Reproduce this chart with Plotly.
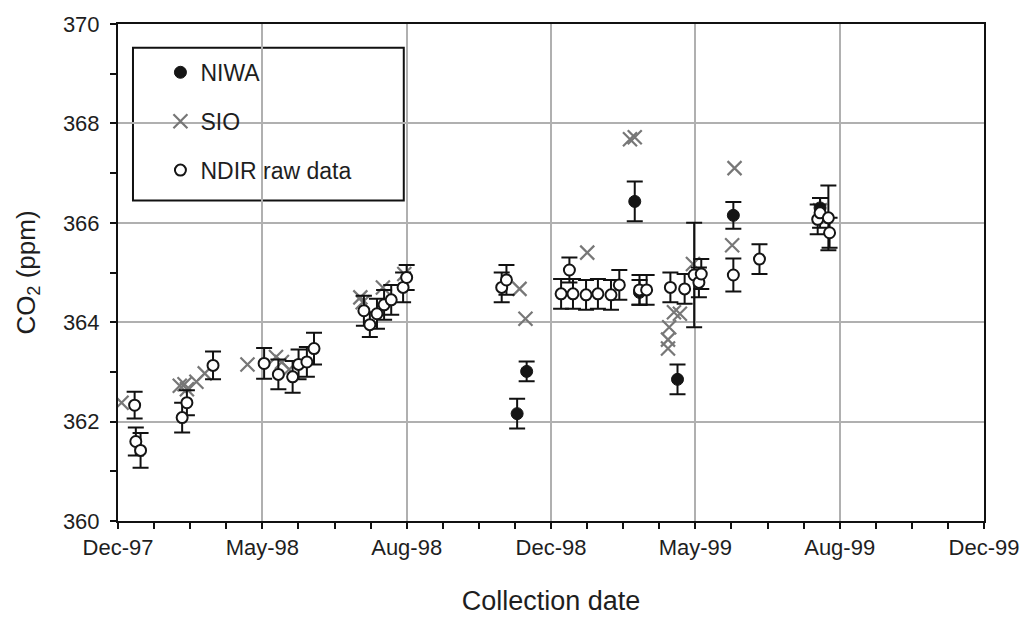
import pandas as pd
import plotly.graph_objects as go

# ---- NIWA flask results (date, CO2 ppm, 1-sigma) ----
niwa_dates = ["1998-12-02", "1998-12-10", "1999-03-11", "1999-03-15",
              "1999-04-16", "1999-06-02", "1999-08-14"]
niwa_co2 = [362.16, 363.01, 366.43, 364.60, 362.85, 366.15, 366.30]
niwa_err = [0.30, 0.20, 0.40, 0.25, 0.30, 0.27, 0.20]

# ---- SIO flask results ----
sio_dates = ["1998-01-03", "1998-02-21", "1998-02-25", "1998-02-27", "1998-03-07",
             "1998-03-14", "1998-04-19", "1998-05-13", "1998-05-18", "1998-05-24",
             "1998-07-23", "1998-07-25", "1998-08-11", "1998-08-29", "1998-12-04",
             "1998-12-09", "1999-01-30", "1999-03-07", "1999-03-11", "1999-04-08",
             "1999-04-08", "1999-04-09", "1999-04-13", "1999-04-18", "1999-04-29",
             "1999-06-01", "1999-06-03", "1999-08-14"]
sio_co2 = [362.38, 362.72, 362.75, 362.65, 362.80,
           362.97, 363.15, 363.30, 363.20, 363.05,
           364.50, 364.40, 364.70, 364.97, 364.67,
           364.07, 365.40, 367.68, 367.72, 363.47,
           363.65, 363.90, 364.20, 364.17, 365.17,
           365.55, 367.10, 366.25]

# ---- NDIR raw data (date, CO2 ppm, 1-sigma) ----
ndir_dates = ["1998-01-14", "1998-01-15", "1998-01-19", "1998-02-23", "1998-02-27",
              "1998-03-21", "1998-05-03", "1998-05-15", "1998-05-27", "1998-06-01",
              "1998-06-08", "1998-06-14", "1998-07-26", "1998-07-31", "1998-08-06",
              "1998-08-12", "1998-08-18", "1998-08-28", "1998-08-31", "1998-11-19",
              "1998-11-23", "1999-01-08", "1999-01-15", "1999-01-18", "1999-01-29",
              "1999-02-08", "1999-02-19", "1999-02-26", "1999-03-15", "1999-03-21",
              "1999-04-10", "1999-04-22", "1999-04-30", "1999-05-04", "1999-05-06",
              "1999-06-02", "1999-06-24", "1999-08-12", "1999-08-14", "1999-08-21",
              "1999-08-22"]
ndir_co2 = [362.33, 361.60, 361.42, 362.08, 362.38,
            363.13, 363.17, 362.95, 362.90, 363.15,
            363.20, 363.47, 364.23, 363.95, 364.17,
            364.35, 364.45, 364.70, 364.90, 364.70,
            364.85, 364.57, 365.05, 364.57, 364.55,
            364.57, 364.55, 364.75, 364.65, 364.65,
            364.70, 364.67, 364.95, 364.80, 364.97,
            364.95, 365.27, 366.07, 366.20, 366.10,
            365.80]
ndir_err = [0.27, 0.28, 0.35, 0.30, 0.25,
            0.28, 0.31, 0.30, 0.32, 0.30,
            0.30, 0.32, 0.30, 0.25, 0.30,
            0.30, 0.30, 0.30, 0.25, 0.30,
            0.30, 0.30, 0.25, 0.30, 0.30,
            0.30, 0.30, 0.30, 0.30, 0.30,
            0.30, 0.30, 1.05, 0.30, 0.30,
            0.33, 0.30, 0.30, 0.30, 0.65,
            0.30]

# ---- axis labelling ----
tick_labels = ["Dec-97", "May-98", "Aug-98", "Dec-98", "May-99", "Aug-99", "Dec-99"]
axis_start = pd.Timestamp("1997-12-31")
major_step = pd.Timedelta(days=121.5)
tick_positions = [axis_start + i * major_step for i in range(len(tick_labels))]
axis_end = tick_positions[-1]
minor_step_ms = int(major_step.total_seconds() * 1000 / 4)

FONT = "Liberation Sans, Arial, sans-serif"
TEXT = "#1e1e1e"
INK = "#111111"
err_style = dict(type="data", thickness=2, width=8, color=INK)

fig = go.Figure()

fig.add_trace(go.Scatter(
    x=sio_dates, y=sio_co2, mode="markers", name="SIO", legendrank=2,
    marker=dict(symbol="x-thin", size=14, line=dict(width=2.2, color="#777777"),
                color="#777777"),
))
fig.add_trace(go.Scatter(
    x=niwa_dates, y=niwa_co2, mode="markers", name="NIWA", legendrank=1,
    error_y=dict(array=niwa_err, **err_style),
    marker=dict(symbol="circle", size=12, color="#151515",
                line=dict(width=1, color="#151515")),
))
fig.add_trace(go.Scatter(
    x=ndir_dates, y=ndir_co2, mode="markers", name="NDIR raw data", legendrank=3,
    error_y=dict(array=ndir_err, **err_style),
    marker=dict(symbol="circle", size=11, color="white",
                line=dict(width=2, color="#151515")),
))

# separate legend groups so the gap spaces the entries apart
for i, tr in enumerate(fig.data):
    tr.legendgroup = f"g{i}"

fig.update_layout(
    width=1033, height=628,
    margin=dict(l=118, r=49, t=20, b=107),
    paper_bgcolor="white", plot_bgcolor="white",
    font=dict(family=FONT, color=TEXT),
    legend=dict(
        x=0.049, y=0.946, xanchor="left", yanchor="top",
        bgcolor="rgba(0,0,0,0)", borderwidth=0,
        font=dict(size=23, family=FONT, color=TEXT),
        tracegroupgap=16, itemsizing="trace", itemwidth=30,
    ),
    showlegend=True,
    # framed white box behind the legend entries
    shapes=[dict(
        type="rect", xref="paper", yref="paper",
        x0=0.0173, x1=0.330, y0=0.645, y1=0.952,
        fillcolor="white", line=dict(color=INK, width=2), layer="between",
    )],
)

fig.update_xaxes(
    type="date", range=[axis_start, axis_end],
    tickmode="array", tickvals=tick_positions, ticktext=tick_labels,
    ticks="outside", ticklen=6, tickwidth=2, tickcolor=INK,
    tickfont=dict(size=22, family=FONT, color=TEXT),
    showgrid=True, gridcolor="#b0b0b0", gridwidth=1.5,
    showline=True, linecolor=INK, linewidth=2, mirror=True,
    minor=dict(ticks="outside", ticklen=6, tickwidth=2, tickcolor=INK,
               tick0=axis_start, dtick=minor_step_ms, showgrid=False),
    title=dict(text="Collection date", font=dict(size=27, family=FONT, color=TEXT),
               standoff=32),
    zeroline=False,
)
fig.update_yaxes(
    range=[360, 370], tickmode="linear", tick0=360, dtick=2,
    ticks="outside", ticklen=6, tickwidth=2, tickcolor=INK,
    tickfont=dict(size=22, family=FONT, color=TEXT),
    ticklabelstandoff=6,
    showgrid=True, gridcolor="#b0b0b0", gridwidth=1.5,
    showline=True, linecolor=INK, linewidth=2, mirror=True,
    minor=dict(ticks="outside", ticklen=6, tickwidth=2, tickcolor=INK,
               dtick=1, showgrid=False),
    title=dict(text="CO<sub>2</sub> (ppm)", font=dict(size=26, family=FONT, color=TEXT),
               standoff=20),
    zeroline=False,
)

fig.write_html("out.html")
